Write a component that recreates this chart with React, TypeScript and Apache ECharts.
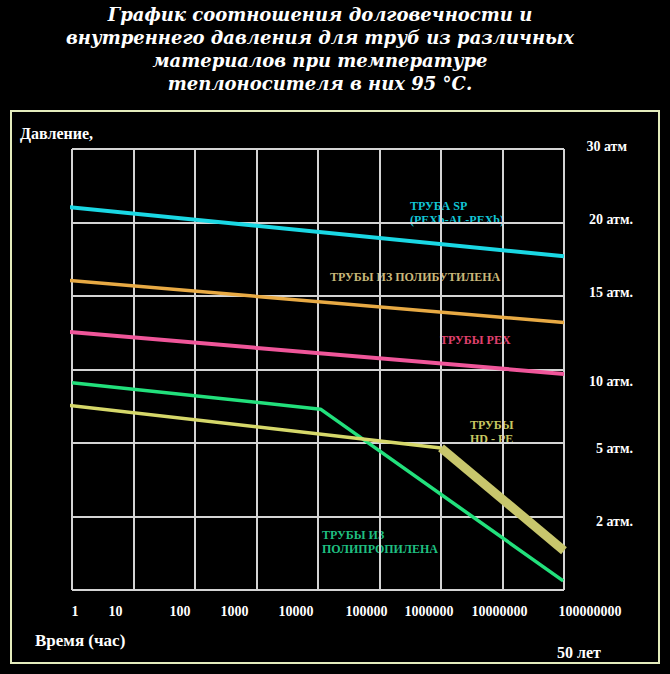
import React, { useEffect, useRef } from "react";
import * as echarts from "echarts";

// ---------- data ----------
const titleText =
  "График соотношения долговечности и\nвнутреннего давления для труб из различных\nматериалов при температуре\nтеплоносителя в них 95 °С.";

const xTickLabels = ["1", "10", "100", "1000", "10000", "100000", "1000000", "10000000", "100000000"];
const yTickValues = [0, 2, 5, 10, 15, 20, 30];
const yTickLabels = ["", "2 атм.", "5 атм.", "10 атм.", "15 атм.", "20 атм.", "30 атм"];

// [hours, pressure (atm)]
const spPipe = [[0.66, 22.2], [1e8, 17.7]];
const pbPipe = [[0.66, 16.1], [1e8, 13.2]];
const pexPipe = [[0.66, 12.6], [1e8, 9.7]];
const ppPipe = [[1, 9.1], [1.1e4, 7.3], [9.7e7, 0.25]];
const hdpeThin = [[0.73, 7.6], [1e6, 4.8]];
const hdpeThick = [[1e6, 4.8], [1e8, 1.07]];

// ---------- styles ----------
const SERIF = '"Liberation Serif", "Times New Roman", serif';
const xLabelShift = [3, -18, -15, -22, -22, -13, -12, -3, 26];
const yLabelShiftY = [0, 5, 5, 12, -4, -3, -3];
const yLabelPadRight = [0, 0, 0, 0, 0, 0, 6];

function toPos(p: number): number {
  for (let i = 0; i < yTickValues.length - 1; i++) {
    const a = yTickValues[i];
    const b = yTickValues[i + 1];
    if (p <= b || i === yTickValues.length - 2) {
      return i + (p - a) / (b - a);
    }
  }
  return 0;
}

const mapData = (arr: number[][]) => arr.map(([h, p]) => [h, toPos(p)]);

function lineSeries(name: string, data: number[][], color: string, width: number) {
  return {
    name,
    type: "line",
    data: mapData(data),
    symbol: "none",
    showSymbol: false,
    clip: false,
    silent: true,
    lineStyle: { color, width, cap: "butt", join: "bevel" },
    z: 5,
  };
}

export default function App() {
  const ref = useRef<HTMLDivElement>(null);

  useEffect(() => {
    if (!ref.current) return;
    const chart = echarts.init(ref.current, undefined, { renderer: "svg" });

    const xRich: Record<string, any> = {};
    xTickLabels.forEach((_, i) => {
      const d = xLabelShift[i];
      xRich["x" + i] = {
        color: "#fff",
        fontFamily: SERIF,
        fontWeight: "bold",
        fontSize: 14,
        padding: d >= 0 ? [0, 0, 0, 2 * d] : [0, -2 * d, 0, 0],
      };
    });
    const yRich: Record<string, any> = {};
    yTickLabels.forEach((_, i) => {
      const d = yLabelShiftY[i];
      yRich["y" + i] = {
        color: "#fff",
        fontFamily: SERIF,
        fontWeight: "bold",
        fontSize: 14,
        padding: [d > 0 ? 2 * d : 0, yLabelPadRight[i], d < 0 ? -2 * d : 0, 0],
      };
    });

    chart.setOption({
      animation: false,
      backgroundColor: "#000",
      grid: { left: 72, right: 106, top: 149, bottom: 84 },
      xAxis: {
        type: "log",
        logBase: 10,
        min: 1,
        max: 1e8,
        splitNumber: 8,
        axisLine: { show: false },
        axisTick: { show: false },
        splitLine: { show: true, lineStyle: { color: "#d4d4d4", width: 2 } },
        axisLabel: {
          margin: 14,
          hideOverlap: false,
          formatter: (v: number) => {
            const i = Math.round(Math.log10(v));
            return `{x${i}|${xTickLabels[i] ?? ""}}`;
          },
          rich: xRich,
        },
      },
      yAxis: {
        type: "value",
        position: "right",
        min: 0,
        max: 6,
        interval: 1,
        axisLine: { show: false },
        axisTick: { show: false },
        splitLine: { show: true, lineStyle: { color: "#d4d4d4", width: 2 } },
        axisLabel: {
          margin: 69,
          align: "right",
          formatter: (v: number) => {
            const i = Math.round(v);
            return yTickLabels[i] ? `{y${i}|${yTickLabels[i]}}` : "";
          },
          rich: yRich,
        },
      },
      graphic: [
        {
          type: "rect",
          shape: { x: 11, y: 111, width: 648, height: 552 },
          style: { fill: "none", stroke: "#e4ecbc", lineWidth: 2 },
          silent: true,
        },
        {
          type: "text",
          x: 320,
          y: 3,
          style: {
            text: titleText,
            fill: "#fff",
            font: 'bold italic 18px "DejaVu Serif"',
            textAlign: "center",
            textVerticalAlign: "top",
            lineHeight: 23,
          },
        },
        {
          type: "text",
          x: 20,
          y: 133,
          style: { text: "Давление,", fill: "#fff", font: `bold 16px ${SERIF}`, textVerticalAlign: "middle" },
        },
        {
          type: "text",
          x: 35,
          y: 640,
          style: { text: "Время (час)", fill: "#fff", font: `bold 17px ${SERIF}`, textVerticalAlign: "middle" },
        },
        {
          type: "text",
          x: 557,
          y: 652,
          style: { text: "50 лет", fill: "#fff", font: `bold 16px ${SERIF}`, textVerticalAlign: "middle" },
        },
        {
          type: "text",
          x: 410,
          y: 199,
          style: {
            text: "ТРУБА SP\n(PEXb-AL-PEXb)",
            fill: "#12c6d6",
            font: `bold 12px ${SERIF}`,
            lineHeight: 14,
            textVerticalAlign: "top",
          },
        },
        {
          type: "text",
          x: 330,
          y: 277,
          style: { text: "ТРУБЫ ИЗ ПОЛИБУТИЛЕНА", fill: "#c9b87a", font: `bold 12px ${SERIF}`, textVerticalAlign: "middle" },
        },
        {
          type: "text",
          x: 440,
          y: 340,
          style: { text: "ТРУБЫ PEX", fill: "#e0406e", font: `bold 12px ${SERIF}`, textVerticalAlign: "middle" },
        },
        {
          type: "text",
          x: 470,
          y: 418,
          style: {
            text: "ТРУБЫ\nHD - PE",
            fill: "#c8c862",
            font: `bold 12px ${SERIF}`,
            lineHeight: 14,
            textVerticalAlign: "top",
          },
        },
        {
          type: "text",
          x: 322,
          y: 528,
          style: {
            text: "ТРУБЫ ИЗ\nПОЛИПРОПИЛЕНА",
            fill: "#1fbf80",
            font: `bold 12px ${SERIF}`,
            lineHeight: 14,
            textVerticalAlign: "top",
          },
        },
      ],
      series: [
        lineSeries("ТРУБА SP", spPipe, "#1ad8e4", 4),
        lineSeries("ТРУБЫ ИЗ ПОЛИБУТИЛЕНА", pbPipe, "#e8aa44", 3.5),
        lineSeries("ТРУБЫ PEX", pexPipe, "#f0569a", 4),
        lineSeries("ТРУБЫ ИЗ ПОЛИПРОПИЛЕНА", ppPipe, "#22e07c", 3.5),
        lineSeries("ТРУБЫ HD - PE", hdpeThin, "#d6d86a", 3.5),
        lineSeries("ТРУБЫ HD - PE (2)", hdpeThick, "#c8c66c", 9),
      ],
    });

    return () => chart.dispose();
  }, []);

  return (
    <div
      ref={ref}
      style={{ position: "fixed", left: 0, top: 0, width: 670, height: 674, background: "#000" }}
    />
  );
}
